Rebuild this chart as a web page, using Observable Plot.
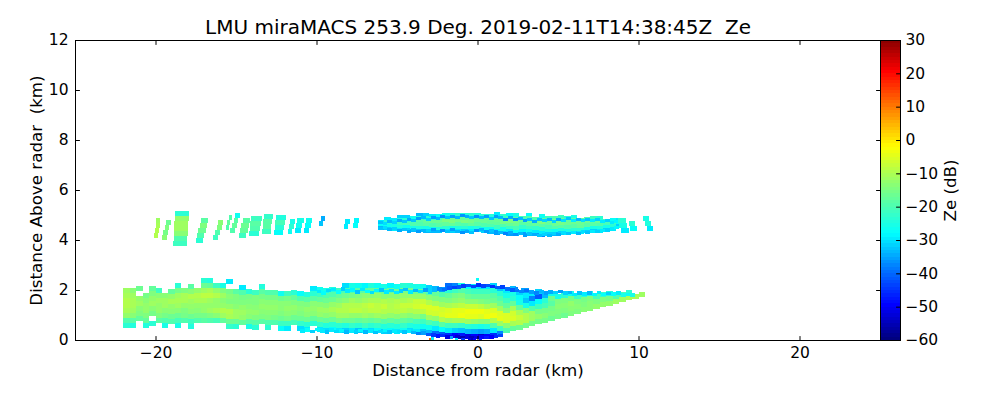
<!DOCTYPE html>
<html><head><meta charset="utf-8">
<script src="https://cdn.jsdelivr.net/npm/d3@7"></script>
<script src="https://cdn.jsdelivr.net/npm/@observablehq/plot@0.6"></script>
<style>html,body{margin:0;padding:0;background:#fff}#c{position:relative;width:1000px;height:400px;overflow:hidden}#c svg{position:absolute;top:0}</style>
</head><body><div id="c"></div>
<script>
const titleText = "LMU miraMACS 253.9 Deg. 2019-02-11T14:38:45Z  Ze";
const xLabel = "Distance from radar (km)";
const yLabel = "Distance Above radar  (km)";
const barLabel = "Ze (dB)";
const xTicks = [-20,-10,0,10,20];
const yTicks = [0,2,4,6,8,10,12];
const barTicks = [-60,-50,-40,-30,-20,-10,0,10,20,30];
const barLevels = d3.range(-60,30,1);
const jetValues = [-60,-50,-38.5,-28.5,-15,-2.5,9,20,30];
const jetColors = ["#00007f","#0000ff","#007fff","#00ffff","#7fff7f","#ffff00","#ff7f00","#ff0000","#7f0000"];

// lower echo: column start (km), lowest height (km), Ze by 0.2 km bin from the bottom up
const lowerX = [-22,-21.6,-21.2,-20.8,-20.4,-20,-19.6,-19.2,-18.8,-18.4,-18,-17.6,-17.2,-16.8,-16.4,-16,-15.6,-15.2,-14.8,-14.4,-14,-13.6,-13.2,-12.8,-12.4,-12,-11.6,-11.2,-10.8,-10.4,-10,-9.6,-9.2,-8.8,-8.4,-8,-7.6,-7.2,-6.8,-6.4,-6,-5.6,-5.2,-4.8,-4.4,-4,-3.6,-3.2,-2.8,-2.4,-2,-1.6,-1.2,-0.8,-0.4,0,0.4,0.8,1.2,1.6,2,2.4,2.8,3.2,3.6,4,4.4,4.8,5.2,5.6,6,6.4,6.8,7.2,7.6,8,8.4,8.8,9.2,9.6,10];
const lowerBase = [.5,.5,.55,.5,.55,.5,.5,.45,.5,.5,.45,.5,.5,.5,.48,.48,.45,.46,.42,.45,.42,.45,.4,.42,.36,.36,.4,.36,.34,.36,.32,.3,.32,.3,.28,.3,.28,.3,.28,.28,.26,.28,.26,.3,.28,.25,.25,.2,.15,.12,.1,.08,.08,.06,.06,.05,.05,.08,.15,.28,.35,.42,.49,.56,.63,.7,.76,.83,.9,.97,1.04,1.11,1.18,1.25,1.31,1.38,1.45,1.52,1.59,1.66,1.73];
const lowerZ = [
[-24,-20,-13,-11,-10,-10,-11,-12],
[-25,-19,-14,-12,-11,-11,-12,-14],
[,-18,-15,-14,-12,-13,,-17],
[-25,-18,-15,-13,-13,-14,-16,,],
[-24,,-16,-14,-12,-13,-15,-18],
[,-19,-15,-13,-13,-12,-14,-22],
[-26,-20,-16,-14,-12,-12,-14,],
[,-20,-17,-14,-13,-11,-13,-18],
[-26,-21,-17,-14,-12,-11,-12,-16,-24],
[,-20,-16,-15,-13,-11,-11,-15],
[-25,-22,-17,-14,-13,-12,-10,-14,-19],
[,-20,-16,-14,-13,-11,-10,-13,],
[,-19,-16,-13,-13,-11,-9,-12,-17,-24],
[,-20,-15,-12,-13,-12,-9,-11,-18,-25],
[,-21,-14,-11,-13,-13,-10,-13,-22],
[,-18,-12,-10,-13,-14,-12,-15,-26],
[-23,-17,-11,-10,-13,-15,-14,-16,,-30],
[-24,-17,-12,-12,-14,-15,-15,-19,],
[,-18,-13,-12,-13,-15,-16,-20,-30],
[-26,-19,-14,-13,-14,-15,-16,-24],
[-24,-19,-15,-13,-14,-15,-15,-22],
[,-19,-15,-14,-13,-14,-16,-19,-25],
[-24,-20,-15,-14,-13,-14,-16,-20,],
[,-20,-16,-14,-13,-14,-16,-20],
[-28,-22,-17,-15,-14,-14,-17,-27],
[-30,-22,-16,-14,-13,-14,-16,-22],
[,-21,-17,-14,-13,-15,-18,-24,],
[-31,-23,-17,-15,-14,-15,-20,-28],
[-30,-24,-17,-14,-13,-15,-19,-25],
[,-24,-18,-14,-13,-14,-19,-24,-30],
[-30,-23,-17,-13,-12,-14,-18,-22,-27],
[-31,-25,-18,-14,-12,-14,-17,-20,-26],
[-28,-24,-17,-13,-11,-13,-17,-20,-25],
[-30,-24,-16,-12,-10,-12,-15,-18,-22],
[-32,-25,-17,-12,-10,-10,-14,-17,-21,-31],
[-30,-23,-17,-13,-9,-10,-12,-16,-20,-26],
[-33,-24,-18,-13,-9,-10,-13,-15,-19,-27],
[-29,-22,-17,-12,-10,-9,-12,-14,-19,-29],
[-31,-24,-18,-13,-9,-8,-11,-14,-18,-25],
[-28,-23,-17,-12,-9,-9,-11,-13,-18,-27],
[-32,-25,-19,-13,-10,-8,-10,-14,-17,-26],
[-28,-24,-18,-13,-10,-10,-11,-14,-18,-29],
[-30,-25,-19,-14,-10,-9,-10,-14,-17,-27],
[-27,-23,-18,-13,-9,-8,-11,-13,-16,-24],
[-31,-25,-19,-14,-10,-8,-10,-13,-16,-25],
[-30,-26,-21,-14,-10,-7,-8,-13,-17,-26],
[-33,-27,-22,-16,-9,-6,-8,-13,-18,-27],
[-34,-27,-20,-12,-7,-6,-10,-14,-20,-32],
[-40,-30,-22,-13,-7,-6,-11,-15,-18,-34],
[-42,-28,-19,-10,-6,-7,-12,-15,-20,-36],
[-46,-30,-22,-12,-5,-6,-11,-15,-18,-24,-40],
[-50,-32,-22,-11,-5,-5,-10,-14,-16,-22,-38],
[-48,-33,-23,-11,-4,-5,-9,-13,-15,-20,-26],
[-52,-34,-24,-12,-5,-4,-8,-14,-17,-21,-28],
[-50,-35,-25,-13,-5,-4,-8,-14,-18,-22,-30],
[-54,-36,-26,-14,-6,-4,-9,-15,-18,-22,-31],
[-50,-35,-25,-14,-4,-5,-11,-16,-18,-22,-30],
[-46,-30,-20,-10,-4,-6,-12,-17,-19,-24,-32],
[-38,-22,-12,-5,-6,-12,-17,-20,-24,-33],
[-20,-14,-6,-6,-14,-18,-22,-26,-30],
[-18,-11,-6,-7,-11,-18,-24,-26,-34],
[-17,-10,-8,-11,-18,-26,-28,-32],
[-16,-10,-10,-15,-26,-33,-30,-36],
[-16,-12,-12,-20,-30,-38,-30],
[-16,-13,-16,-22,-28,-42,-32],
[-16,-14,-16,-21,-24,-34],
[-17,-15,-16,-19,-17,-27],
[-16,-15,-14,-15,-26],
[-17,-15,-14,-15,-24],
[-15,-14,-13,-16,-27],
[-15,-14,-15,-22],
[-14,-15,-16,-24],
[-14,-14,-15,-26],
[-13,-15,-21],
[-13,-15,-23],
[-13,-16,-25],
[-12,-20],
[-12,-21],
[-11,-24],
[-11],
[-12]
];
// lower echo: jagged rim, 0.3 km apart
const rimTopX = d3.range(-10,9.8,.3);
const rimTopH = [2.02,1.95,2.05,2.1,2.0,2.12,2.03,2.08,2,2.1,2.02,1.98,2.05,2.08,2,2.06,1.98,2.04,2.1,2,2.05,2.02,2.08,2,2.05,2.12,2.1,2.16,2.18,2.2,2.24,2.26,2.22,2.28,2.24,2.26,2.22,2.18,2.2,2.12,2.08,2.06,2.02,2.05,2,1.96,2.02,1.95,2,1.98,2.02,1.95,1.98,1.9,1.96,1.92,1.96,1.9,1.98,1.9,1.94,1.92,1.96,1.88,1.9,1.88,1.94];
const rimTopZ = [-30,-28,-31,-30,-28,-32,-30,-29,-33,-30,-28,-31,-29,-33,-30,-31,-30,-32,-33,-30,-34,-31,-36,-32,-34,-38,-40,-42,-44,-42,-45,-42,-44,-46,-44,-42,-46,-42,-44,-40,-42,-40,-38,-40,-36,-38,-34,-36,-35,-32,-36,-32,-34,-30,-33,-30,-34,-29,-30,-28,-32,-28,-30,-26,-28,-26,-27];
const rimLowX = d3.range(-11,1.4,.3);
const rimLowH = [.3,.34,.28,.36,.3,.26,.34,.28,.32,.25,.3,.26,.32,.26,.3,.24,.28,.32,.26,.3,.28,.26,.3,.24,.2,.22,.16,.14,.1,.12,.06,.08,.05,.03,.06,.02,.04,.05,.04,.06,.08,.12];
const rimLowZ = [-30,-28,-32,-29,-30,-33,-30,-31,-29,-34,-30,-32,-29,-34,-30,-33,-31,-29,-33,-30,-31,-33,-30,-34,-38,-36,-42,-45,-48,-46,-52,-50,-54,-56,-52,-55,-52,-50,-48,-50,-46,-44];
// upper echo: continuous part
const upperX = [-6.2,-5.8,-5.4,-5,-4.6,-4.2,-3.8,-3.4,-3,-2.6,-2.2,-1.8,-1.4,-1,-0.6,-0.2,0.2,0.6,1,1.4,1.8,2.2,2.6,3,3.4,3.8,4.2,4.6,5,5.4,5.8,6.2,6.6,7,7.4,7.8,8.2,8.6];
const upperBase = [4.42,4.4,4.38,4.36,4.35,4.32,4.32,4.3,4.28,4.28,4.32,4.3,4.32,4.3,4.3,4.32,4.28,4.26,4.2,4.25,4.18,4.16,4.2,4.17,4.16,4.12,4.2,4.18,4.22,4.2,4.24,4.23,4.28,4.3,4.3,4.34,4.38,4.5];
const upperZ = [
[-34,-28,-30],
[-32,-27,-24,-30],
[-30,-26,-24,-30],
[-30,-25,-22,-25,-32],
[-32,-27,-21,-24,-32],
[-34,-26,-20,-21,-27],
[-32,-25,-20,-19,-25,-34],
[-34,-26,-19,-18,-24,-32],
[-34,-27,-20,-17,-23,-30],
[-32,-25,-19,-17,-21,-28],
[-30,-24,-18,-15,-20,-27],
[-32,-26,-18,-15,-17,-26],
[-30,-25,-19,-16,-18,-24],
[-32,-24,-20,-15,-18,-25],
[-30,-26,-18,-16,-17,-24],
[-30,-25,-19,-17,-19,-25],
[-32,-27,-20,-17,-18,-24],
[-34,-27,-20,-18,-17,-25],
[-36,-28,-22,-18,-17,-22,-30],
[-32,-26,-20,-16,-16,-23],
[-36,-30,-22,-18,-15,-20,-28],
[-34,-28,-21,-17,-16,-19,-26],
[-36,-29,-23,-19,-17,-21],
[-34,-27,-22,-19,-17,-20,-28],
[-36,-30,-23,-18,-16,-20],
[-38,-30,-24,-19,-15,-18,-27],
[-32,-26,-21,-18,-17,-22],
[-34,-27,-20,-17,-16,-20],
[-32,-25,-19,-16,-17,-22],
[-30,-26,-20,-17,-18,-24],
[-32,-24,-19,-17,-19,-26],
[-30,-24,-18,-17,-18],
[-32,-26,-19,-17,-20],
[-32,-26,-19,-18,-22],
[-30,-25,-20,-17,-24],
[-32,-26,-21,-21],
[-30,-24,-22,-28],
[-32,-27,-30]
];
const upperStep = 0.13;
// upper echo: jagged rim, 0.3 km apart
const rimUpX = d3.range(-6.2,8.7,.3);
const rimUpTop = [4.78,4.72,4.8,4.78,4.86,4.82,4.9,4.84,4.92,4.95,4.88,4.98,4.94,5,4.96,5.02,4.98,5.04,5,4.96,5.02,4.98,5,4.94,5,4.96,4.9,4.96,4.88,4.92,4.85,4.9,4.82,4.88,4.84,4.9,4.82,4.88,4.84,4.92,4.84,4.9,4.84,4.9,4.86,4.9,4.82,4.86,4.78,4.82];
const rimUpLow = [4.4,4.44,4.36,4.4,4.34,4.36,4.3,4.36,4.3,4.34,4.32,4.36,4.3,4.34,4.3,4.36,4.3,4.26,4.3,4.26,4.32,4.36,4.3,4.34,4.3,4.26,4.2,4.26,4.18,4.22,4.14,4.2,4.16,4.12,4.18,4.14,4.22,4.18,4.24,4.2,4.26,4.22,4.28,4.24,4.3,4.28,4.34,4.38,4.36,4.44];
const rimUpZ = [-33,-31,-34,-32,-35,-33,-35,-33,-36,-34,-32,-36,-34,-37,-33,-36,-34,-37,-35,-33,-37,-34,-36,-33,-36,-34,-38,-35,-37,-34,-36,-33,-35,-33,-32,-34,-32,-35,-31,-33,-30,-34,-31,-33,-30,-32,-30,-32,-30,-29];
// upper echo: separate leaning streaks
const streakX = [-20.1,-19.6,-18.9,-17.5,-16.4,-15.65,-15.35,-14.8,-14.2,-13.4,-12.65,-11.8,-11.35,-10.8,-9.85,-8.3,-7.75,8.9,9.5,10.55];
const streakW = [.25,.3,.85,.45,.3,.2,.3,.45,.65,.55,.6,.3,.4,.35,.25,.25,.3,.5,.4,.35];
const streakBase = [4.1,4,3.75,3.9,4,4.4,4.3,4.1,4.15,4.25,4.2,4.25,4.3,4.3,4.55,4.45,4.5,4.3,4.35,4.35];
const streakLean = [.05,.08,.02,.08,.1,.1,.1,.07,.05,.05,.05,.08,.08,.08,.1,.1,.1,-.1,-.1,-.12];
const streakZ = [
[-10,-10,-11,-12],[-14,-16,-15,-17],[-22,-20,-14,-12,-12,-13,-24],[-24,-20,-17,-15,-19],[-22,-20,-15,-14],
[-20,-18,-20],[-20,-18,-19,-27],[-22,-18,-17,-19],[-24,-20,-19,-22],[-22,-19,-19,-23],[-28,-24,-21,-25],
[-27,-24,-26],[-30,-27,-26],[-30,-28,-27],[-33,-35],[-30,-30],[-28,-29],[-30,-26,-24],[-28,-24],[-30,-25,-26]
];
// isolated gates near ground and above the echo
const speckX = [-3,-2.9,-1.7,-1.4,-1,-0.6,-0.3,0.1,-0.1,2.3,2.7];
const speckH = [0,0.02,0.05,0,0,0,0,0,2.38,2.02,2];
const speckZ = [12,-30,-36,-30,-45,-52,-50,-48,-28,-38,-36];

const cells = [];
lowerX.forEach((x,i)=>lowerZ[i].forEach((z,j)=>{ if(z!==undefined) cells.push({x1:x,x2:x+.4,y1:lowerBase[i]+j*.2,y2:lowerBase[i]+(j+1)*.2,z}); }));
rimTopX.forEach((x,i)=>cells.push({x1:x,x2:x+.3,y1:rimTopH[i]-.14,y2:rimTopH[i],z:rimTopZ[i]}));
rimLowX.forEach((x,i)=>cells.push({x1:x,x2:x+.3,y1:rimLowH[i],y2:rimLowH[i]+.14,z:rimLowZ[i]}));
upperX.forEach((x,i)=>upperZ[i].forEach((z,j)=>cells.push({x1:x,x2:x+.4,y1:upperBase[i]+j*upperStep,y2:upperBase[i]+(j+1)*upperStep,z})));
rimUpX.forEach((x,i)=>{cells.push({x1:x,x2:x+.3,y1:rimUpTop[i]-.12,y2:rimUpTop[i],z:rimUpZ[i]});cells.push({x1:x,x2:x+.3,y1:rimUpLow[i],y2:rimUpLow[i]+.12,z:rimUpZ[i]});});
streakX.forEach((x,i)=>streakZ[i].forEach((z,j)=>cells.push({x1:x+j*streakLean[i],x2:x+j*streakLean[i]+streakW[i],y1:streakBase[i]+j*.2,y2:streakBase[i]+(j+1)*.2,z})));
speckX.forEach((x,i)=>cells.push({x1:x,x2:x+.2,y1:speckH[i],y2:speckH[i]+.1,z:speckZ[i]}));

const color = {type:"linear",domain:jetValues,range:jetColors,interpolate:"rgb",clamp:true};
const font = {fontFamily:"'DejaVu Sans'",fontSize:"16.7px",color:"#000",background:"transparent",overflow:"visible"};
const tickOpts = {stroke:"#000",strokeWidth:1};
const TL = 4;
const tickShape = {draw(c,l){c.moveTo(0,0);c.lineTo(0,-l);}};

const main = Plot.plot({
  width:1000,height:400,marginLeft:75,marginRight:120,marginTop:40,marginBottom:60,
  style:font,color,
  x:{domain:[-25,25],label:null},
  y:{domain:[0,12],label:null},
  marks:[
    Plot.rect(cells,{x1:"x1",x2:"x2",y1:"y1",y2:"y2",fill:"z",shapeRendering:"crispEdges"}),
    Plot.frame({stroke:"#000",strokeWidth:1}),
    Plot.axisX(xTicks,{anchor:"bottom",tickSize:0,tickPadding:6,label:null,tickFormat:d=>String(d).replace("-","\u2212"),fontSize:15.5}),
    Plot.axisY(yTicks,{anchor:"left",tickSize:0,tickPadding:7,label:null,tickFormat:d=>d,fontSize:15.5}),
    Plot.vector(xTicks,{x:d=>d,frameAnchor:"bottom",length:TL,rotate:0,anchor:"start",shape:tickShape,...tickOpts}),
    Plot.vector(xTicks,{x:d=>d,frameAnchor:"top",length:TL,rotate:180,anchor:"start",shape:tickShape,...tickOpts}),
    Plot.vector(yTicks,{y:d=>d,frameAnchor:"left",length:TL,rotate:90,anchor:"start",shape:tickShape,...tickOpts}),
    Plot.vector(yTicks,{y:d=>d,frameAnchor:"right",length:TL,rotate:-90,anchor:"start",shape:tickShape,...tickOpts}),
    Plot.text([titleText],{frameAnchor:"top",dy:-13,text:d=>d,fontSize:20,fill:"#000",lineAnchor:"middle"}),
    Plot.text([xLabel],{frameAnchor:"bottom",dy:30,text:d=>d,fontSize:16.7,fill:"#000",lineAnchor:"middle"}),
    Plot.text([yLabel],{frameAnchor:"left",dx:-39,text:d=>d,rotate:-90,textAnchor:"middle",fontSize:16.7,fill:"#000"})
  ]
});
const bar = Plot.plot({
  width:120,height:400,marginLeft:0,marginRight:100,marginTop:40,marginBottom:60,
  style:font,color,
  x:{domain:[0,1],axis:null},
  y:{domain:[-60,30],label:null},
  marks:[
    Plot.rect(barLevels,{x1:0,x2:1,y1:d=>d,y2:d=>d+1,fill:d=>d,shapeRendering:"crispEdges"}),
    Plot.frame({stroke:"#000",strokeWidth:1}),
    Plot.axisY(barTicks,{anchor:"right",tickSize:0,tickPadding:5,label:null,tickFormat:d=>String(d).replace("-","\u2212"),fontSize:15.5,textAnchor:"start"}),
    Plot.vector(barTicks,{y:d=>d,frameAnchor:"right",length:TL,rotate:-90,anchor:"start",shape:tickShape,...tickOpts}),
    Plot.text([barLabel],{frameAnchor:"right",dx:50,text:d=>d,rotate:-90,textAnchor:"middle",fontSize:16.7,fill:"#000"})
  ]
});
main.style.left="0px"; bar.style.left="880px";
document.getElementById("c").append(main,bar);
</script></body></html>
